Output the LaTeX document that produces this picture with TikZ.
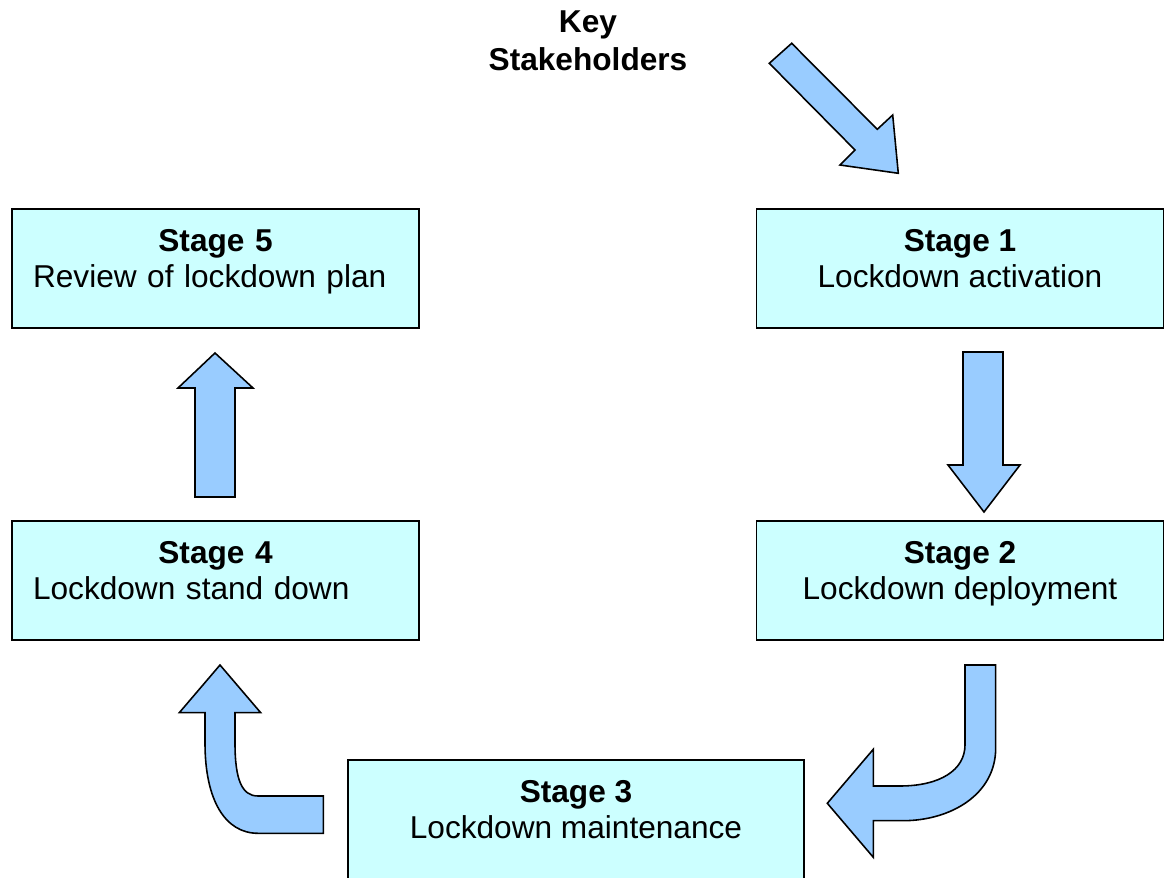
\documentclass[tikz,border=0pt]{standalone}
\usepackage{fontspec}
\setmainfont{Liberation Sans}
\usetikzlibrary{positioning}
\definecolor{stagefill}{RGB}{204,255,255}
\definecolor{arrowfill}{RGB}{153,204,255}

\begin{document}
\begin{tikzpicture}[x=0.02cm,y=-0.02cm,
  stage/.style={draw,line width=.9pt,fill=stagefill,minimum width=8.14cm,minimum height=2.38cm,
                align=center,font=\fontsize{18}{20.5}\selectfont,inner sep=0pt,
                text height=33.5pt,text depth=12.1pt},
  stageleft/.style={stage,text width=7.3cm,align=left,text height=13pt,text depth=32.6pt},
  block/.style={draw,line width=.9pt,fill=arrowfill,line join=miter},
  title/.style={font=\fontsize{18}{21.5}\selectfont\bfseries,align=center}
]
  \useasboundingbox (0,0) rectangle (1171,878);

  \node[title] (key) at (588,41) {Key\\Stakeholders};

  \node[stage] (s1) at (960,268.5) {\textbf{Stage 1}\\Lockdown activation};
  \node[stage] (s2) at (960,580.5) {\textbf{Stage 2}\\Lockdown deployment};
  \node[stage,minimum width=9.12cm] (s3) at (576,819.5) {\textbf{Stage 3}\\Lockdown maintenance};
  \node[stageleft] (s4) at (215.5,580.5) {{\centering\textbf{Stage 4}\par}Lockdown stand down};
  \node[stageleft] (s5) at (215.5,268.5) {{\centering\textbf{Stage 5}\par}Review of lockdown plan};

  % block arrows round the cycle
  \draw[block] (791.7,43.3) -- (877.3,129.3) -- (892.7,115) -- (898.3,173.3)
    -- (840,165) -- (855,150) -- (769.3,63.3) -- cycle;
  \draw[block] (963,352) -- (1003,352) -- (1003,465) -- (1020,465) -- (984,512)
    -- (948,465) -- (963,465) -- cycle;
  \draw[block] (965,665) -- (995.7,665) -- (995.7,748)
    .. controls (995.7,795) and (950,820.7) .. (903,820.7) -- (873.3,820.7)
    -- (873.3,857.3) -- (827.3,803.3) -- (873.3,749.3) -- (873.3,786) -- (900,786)
    .. controls (940,786) and (965,770) .. (965,745) -- cycle;
  \draw[block] (220,665) -- (260.7,712.7) -- (235,712.7) -- (235,743)
    .. controls (235,780) and (242,796) .. (258,796) -- (323.3,796) -- (323.3,833.3)
    -- (258,833.3) .. controls (225,833.3) and (205,800) .. (205,743)
    -- (205,712.7) -- (179.3,712.7) -- cycle;
  \draw[block] (195,497) -- (235,497) -- (235,388) -- (253,388) -- (215,353)
    -- (178,388) -- (195,388) -- cycle;
\end{tikzpicture}
\end{document}
